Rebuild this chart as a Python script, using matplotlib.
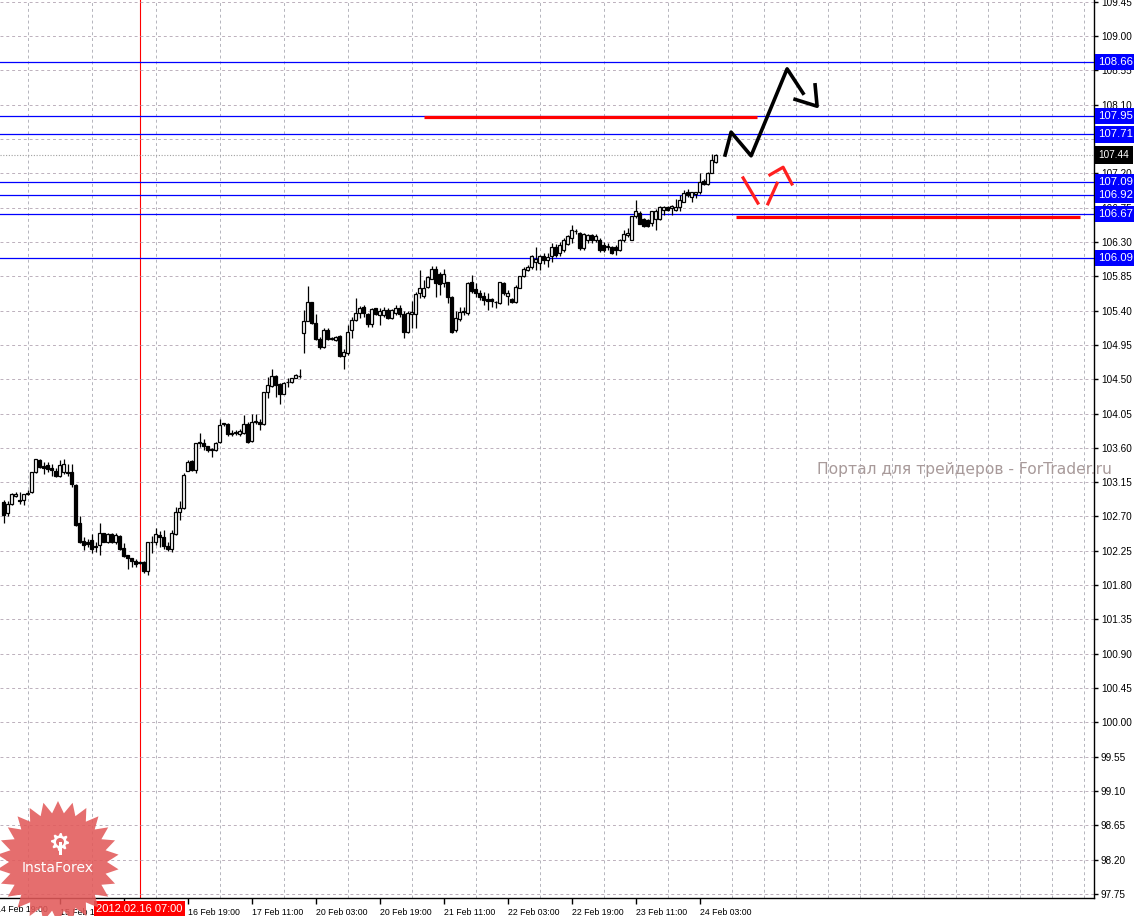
import numpy as np
import matplotlib
matplotlib.use("Agg")
import matplotlib.pyplot as plt
from matplotlib.patches import Polygon
import matplotlib.transforms as mtransforms

# ---------------- data ----------------
opens = [102.89,102.74,102.87,102.97,102.92,102.92,102.99,103.02,103.28,103.44,
         103.36,103.37,103.34,103.29,103.23,103.28,103.28,103.28,103.11,102.61,
         102.38,102.36,102.39,102.31,102.32,102.48,102.36,102.47,102.36,102.45,
         102.29,102.19,102.15,102.12,102.10,102.10,101.99,102.36,102.37,102.46,
         102.43,102.31,102.27,102.47,102.76,102.81,103.30,103.43,103.31,103.66,
         103.67,103.62,103.57,103.57,103.68,103.91,103.91,103.80,103.81,103.78,
         103.80,103.91,103.69,103.94,103.94,103.91,104.33,104.41,104.54,104.44,
         104.31,104.46,104.46,104.52,104.54,105.10,105.27,105.51,105.24,105.03,
         104.92,105.15,105.03,105.01,105.07,104.80,104.84,105.15,105.28,105.37,
         105.45,105.36,105.23,105.43,105.34,105.34,105.41,105.30,105.37,105.44,
         105.36,105.12,105.36,105.36,105.63,105.59,105.71,105.82,105.95,105.88,
         105.76,105.77,105.58,105.15,105.29,105.38,105.37,105.77,105.68,105.63,
         105.59,105.55,105.55,105.51,105.50,105.76,105.59,105.55,105.51,105.70,
         105.85,105.93,105.97,106.04,106.03,106.11,106.06,106.11,106.24,106.15,
         106.19,106.27,106.35,106.44,106.42,106.22,106.33,106.39,106.33,106.33,
         106.26,106.24,106.24,106.24,106.19,106.32,106.39,106.33,106.64,106.68,
         106.60,106.59,106.55,106.60,106.60,106.72,106.76,106.75,106.72,106.76,
         106.83,106.95,106.89,106.93,106.96,107.10,107.06,107.21,107.35]
highs = [102.92,102.90,103.01,103.02,103.02,103.00,103.05,103.28,103.46,103.46,
         103.42,103.42,103.39,103.33,103.44,103.46,103.39,103.39,103.12,102.70,
         102.43,102.40,102.47,102.37,102.61,102.49,102.48,102.48,102.48,102.46,
         102.35,102.19,102.16,102.14,102.11,102.12,102.37,102.44,102.55,102.51,
         102.52,102.37,102.52,102.83,102.90,103.27,103.44,103.44,103.67,103.79,
         103.72,103.63,103.60,103.68,103.98,103.93,103.92,103.84,103.83,103.85,
         104.03,103.94,104.05,104.04,103.98,104.33,104.53,104.64,104.55,104.45,
         104.46,104.52,104.52,104.57,104.63,105.41,105.72,105.51,105.36,105.05,
         105.17,105.17,105.06,105.07,105.08,104.89,105.21,105.32,105.56,105.46,
         105.47,105.37,105.44,105.44,105.43,105.45,105.43,105.42,105.47,105.47,
         105.39,105.39,105.52,105.64,105.93,105.80,105.85,105.98,105.98,105.90,
         105.95,105.78,105.59,105.39,105.45,105.45,105.77,105.87,105.76,105.67,
         105.65,105.63,105.56,105.52,105.78,105.77,105.67,105.56,105.74,105.86,
         105.97,106.00,106.13,106.23,106.13,106.15,106.15,106.29,106.27,106.30,
         106.35,106.39,106.52,106.47,106.43,106.42,106.41,106.40,106.40,106.35,
         106.30,106.29,106.25,106.26,106.34,106.46,106.48,106.64,106.85,106.70,
         106.61,106.60,106.71,106.73,106.77,106.77,106.77,106.79,106.86,106.92,
         106.98,106.99,106.96,106.96,107.20,107.12,107.22,107.46,107.45]
lows = [102.61,102.70,102.85,102.96,102.87,102.85,102.98,103.01,103.27,103.33,
        103.26,103.28,103.23,103.22,103.22,103.26,103.23,103.09,102.57,102.35,
        102.26,102.30,102.22,102.23,102.20,102.36,102.35,102.35,102.34,102.26,
        102.17,102.01,102.04,102.04,102.08,101.96,101.93,102.22,102.33,102.30,
        102.28,102.25,102.24,102.46,102.65,102.80,103.29,103.30,103.27,103.61,
        103.57,103.55,103.48,103.56,103.66,103.89,103.75,103.75,103.77,103.75,
        103.78,103.67,103.68,103.91,103.84,103.90,104.25,104.40,104.27,104.18,
        104.31,104.40,104.45,104.51,104.51,104.84,105.27,105.23,105.01,104.90,
        104.91,105.01,105.01,105.00,104.79,104.64,104.82,105.04,105.27,105.30,
        105.32,105.19,105.18,105.34,105.21,105.32,105.29,105.29,105.34,105.32,
        105.04,105.10,105.17,105.17,105.56,105.56,105.69,105.81,105.58,105.61,
        105.71,105.50,105.11,105.12,105.26,105.34,105.34,105.63,105.58,105.54,
        105.47,105.41,105.45,105.43,105.49,105.61,105.47,105.50,105.50,105.69,
        105.84,105.92,105.95,105.93,105.93,106.01,105.97,106.04,106.10,106.11,
        106.17,106.26,106.28,106.41,106.20,106.20,106.28,106.28,106.30,106.17,
        106.17,106.19,106.14,106.13,106.18,106.30,106.37,106.32,106.61,106.54,
        106.49,106.49,106.51,106.46,106.59,106.65,106.70,106.65,106.71,106.70,
        106.82,106.89,106.82,106.87,106.93,107.05,107.05,107.20,107.34]
closes = [102.72,102.86,102.99,103.00,102.90,102.99,103.01,103.28,103.45,103.35,
          103.34,103.32,103.31,103.23,103.37,103.39,103.27,103.12,102.59,102.36,
          102.32,102.34,102.28,102.30,102.49,102.37,102.47,102.37,102.46,102.28,
          102.18,102.16,102.11,102.08,102.09,101.98,102.36,102.37,102.47,102.43,
          102.31,102.27,102.48,102.76,102.81,103.24,103.42,103.31,103.66,103.68,
          103.62,103.57,103.58,103.66,103.90,103.92,103.78,103.78,103.79,103.82,
          103.91,103.68,103.94,103.94,103.91,104.33,104.42,104.54,104.43,104.30,
          104.45,104.46,104.51,104.55,104.54,105.27,105.51,105.24,105.03,104.92,
          105.14,105.03,105.04,105.05,104.80,104.86,105.12,105.28,105.37,105.43,
          105.37,105.23,105.42,105.36,105.39,105.41,105.30,105.41,105.44,105.36,
          105.12,105.37,105.38,105.62,105.69,105.69,105.84,105.95,105.76,105.75,
          105.88,105.58,105.12,105.30,105.38,105.39,105.76,105.66,105.63,105.58,
          105.54,105.52,105.52,105.51,105.77,105.63,105.63,105.51,105.71,105.85,
          105.94,105.97,106.11,106.08,106.11,106.06,106.10,106.24,106.13,106.26,
          106.33,106.38,106.46,106.44,106.22,106.40,106.39,106.33,106.38,106.20,
          106.20,106.25,106.15,106.19,106.33,106.41,106.42,106.64,106.70,106.54,
          106.51,106.51,106.70,106.71,106.76,106.76,106.72,106.77,106.76,106.85,
          106.94,106.92,106.95,106.95,107.09,107.06,107.21,107.37,107.44]

level_values = [108.66, 107.95, 107.71, 107.09, 106.92, 106.67, 106.09]
current_price = 107.44
y_ticks = [97.75, 98.20, 98.65, 99.10, 99.55, 100.00, 100.45, 100.90, 101.35,
           101.80, 102.25, 102.70, 103.15, 103.60, 104.05, 104.50, 104.95,
           105.40, 105.85, 106.30, 106.75, 107.20, 107.65, 108.10, 108.55,
           109.00, 109.45]
x_label_bars = [-2, 14, 30, 46, 62, 78, 94, 110, 126, 142, 158, 174]
x_labels = ["14 Feb 19:00", "15 Feb 11:00", "16 Feb 03:00", "16 Feb 19:00",
            "17 Feb 11:00", "20 Feb 03:00", "20 Feb 19:00", "21 Feb 11:00",
            "22 Feb 03:00", "22 Feb 19:00", "23 Feb 11:00", "24 Feb 03:00"]
crosshair_bar = 34
crosshair_label = "2012.02.16 07:00"

# hand-drawn forecast annotations (bar index, price)
red_line1_x = [105.1, 188.4]; red_line1_y = [107.94, 107.94]
red_line2_x = [183.1, 269.1]; red_line2_y = [106.63, 106.63]
black_path1_x = [180.4, 181.9, 186.9, 195.9, 199.9]
black_path1_y = [107.44, 107.74, 107.43, 108.57, 108.25]
black_path2_x = [197.9, 203.4, 202.9]
black_path2_y = [108.17, 108.08, 108.36]
red_path1_x = [184.9, 188.6]; red_path1_y = [107.14, 106.81]
red_path2_x = [191.1, 193.4]; red_path2_y = [106.80, 107.07]
red_path3_x = [191.6, 194.9, 197.1]; red_path3_y = [107.18, 107.28, 107.06]

watermark = "Портал для трейдеров - ForTrader.ru"
logo_text = "InstaForex"

AXFONT = ["Liberation Sans", "DejaVu Sans"]

# ---------------- figure ----------------
W, H = 1134, 916
fig = plt.figure(figsize=(W / 100, H / 100), dpi=100)
fig.patch.set_facecolor("white")
ax = fig.add_axes([0, 18 / H, 1094 / W, 898 / H])
ax.set_facecolor("white")
ax.set_xlim(-0.875, 272.625)
ax.set_ylim(97.697, 109.473)

# grid
grid_bars = np.arange(6, 273, 8)
ax.set_xticks(grid_bars, minor=True)
ax.set_yticks(y_ticks)
ax.set_yticklabels([f"{v:.2f}" for v in y_ticks], fontfamily=AXFONT, fontsize=7.2)
ax.grid(which="minor", axis="x", color="#b4b4bc", lw=0.7, ls=(0, (3, 3)))
ax.grid(which="major", axis="y", color="#bcb0bc", lw=0.7, ls=(0, (3, 3)))
ax.grid(which="major", axis="x", visible=False)

# ticks
in_range = [(b, lab) for b, lab in zip(x_label_bars, x_labels) if b >= -0.875]
ax.set_xticks([b for b, _ in in_range])
ax.set_xticklabels([lab for _, lab in in_range], fontsize=6.3, fontfamily=AXFONT)
for t in ax.get_xticklabels():
    t.set_ha("left")
ax.tick_params(axis="x", which="major", length=4, width=1, pad=3, direction="out")
ax.tick_params(axis="x", which="minor", length=0)
ax.yaxis.tick_right()
ax.tick_params(axis="y", length=3, width=1, pad=2)
for b, lab in zip(x_label_bars, x_labels):
    if b < -0.875:
        ax.annotate(lab, xy=(b, 0), xycoords=ax.get_xaxis_transform(),
                    xytext=(0, -5.2), textcoords="offset points", ha="left",
                    va="top", fontsize=6.3, fontfamily=AXFONT, annotation_clip=False)

for s in ["top", "left"]:
    ax.spines[s].set_visible(False)
for s in ["right", "bottom"]:
    ax.spines[s].set_color("black")
    ax.spines[s].set_linewidth(1.0)

# crosshair
ax.axvline(crosshair_bar, color="#ff0000", lw=0.8, zorder=1)

# levels
for v in level_values:
    ax.axhline(v, color="#0000ff", lw=0.9, zorder=2)
ax.axhline(current_price, color="#a0a0a0", lw=0.8, ls=(0, (1, 1.5)), zorder=2)

# candles
o = np.array(opens); h = np.array(highs); l = np.array(lows); c = np.array(closes)
idx = np.arange(len(o))
ax.vlines(idx, l, h, color="black", lw=0.9, zorder=3)
bull = c >= o
bottoms = np.minimum(o, c)
heights = np.maximum(np.abs(c - o), 0.006)
ax.bar(idx[bull], heights[bull], bottom=bottoms[bull], width=0.55,
       color="white", edgecolor="black", lw=0.9, zorder=4)
ax.bar(idx[~bull], heights[~bull], bottom=bottoms[~bull], width=0.55,
       color="black", edgecolor="black", lw=0.9, zorder=4)

# annotations
ax.plot(red_line1_x, red_line1_y, color="#ff0000", lw=2.3, zorder=5, solid_capstyle="butt")
ax.plot(red_line2_x, red_line2_y, color="#ff0000", lw=2.3, zorder=5, solid_capstyle="butt")
ax.plot(black_path1_x, black_path1_y, color="black", lw=2.6, zorder=6)
ax.plot(black_path2_x, black_path2_y, color="black", lw=2.6, zorder=6)
for px, py in [(red_path1_x, red_path1_y), (red_path2_x, red_path2_y), (red_path3_x, red_path3_y)]:
    ax.plot(px, py, color="#ff2020", lw=2.3, zorder=6)

# right-side price boxes
btrans = mtransforms.blended_transform_factory(ax.transAxes, ax.transData)
xb = 1 + 4 / 1094
for v in level_values:
    ax.text(xb, v, f"{v:.2f}", transform=btrans, ha="left", va="center", fontsize=8.2,
            fontfamily=AXFONT, color="white", clip_on=False, zorder=10,
            bbox=dict(boxstyle="square,pad=0.28", fc="#0000ff", ec="none"))
ax.text(xb, current_price, f"{current_price:.2f}", transform=btrans, ha="left",
        va="center", fontsize=7.2, fontfamily=AXFONT, color="white", clip_on=False, zorder=10,
        bbox=dict(boxstyle="square,pad=0.4", fc="black", ec="none"))

# crosshair date box
ax.text(crosshair_bar, -0.0117, crosshair_label, transform=ax.get_xaxis_transform(),
        ha="center", va="center", fontsize=8, fontfamily=AXFONT, color="white",
        clip_on=False, zorder=10,
        bbox=dict(boxstyle="square,pad=0.25", fc="#ff0000", ec="none"))

# watermark
fig.text(817 / W, (H - 474) / H, watermark, fontsize=11.2, color="#a89a9a",
         ha="left", va="baseline", zorder=20)

# InstaForex logo
cx, cy = 58, 862
n = 26
ang = np.linspace(0, 2 * np.pi, 2 * n, endpoint=False) + np.pi / 2
rad = np.where(np.arange(2 * n) % 2 == 0, 61, 49)
pts = np.column_stack([(cx + rad * np.cos(ang)) / W, (H - (cy + rad * np.sin(ang))) / H])
fig.patches.append(Polygon(pts, closed=True, transform=fig.transFigure,
                           fc="#e25a5a", ec="none", alpha=0.88, zorder=15))
gx, gy = 60, 842
ng = 8
ang2 = np.linspace(0, 2 * np.pi, 4 * ng, endpoint=False)
rad2 = np.array([9, 9, 6.5, 6.5] * ng)
gpts = np.column_stack([(gx + rad2 * np.cos(ang2)) / W, (H - (gy + rad2 * np.sin(ang2))) / H])
fig.patches.append(Polygon(gpts, closed=True, transform=fig.transFigure,
                           fc="white", ec="none", zorder=16))
fig.patches.append(Polygon(np.column_stack([(gx + 4 * np.cos(ang2)) / W,
                                            (H - (gy + 4 * np.sin(ang2))) / H]),
                           closed=True, transform=fig.transFigure, fc="#e26a6a",
                           ec="none", zorder=17))
fig.patches.append(Polygon([[(gx - 1.5) / W, (H - gy) / H], [(gx + 1.5) / W, (H - gy) / H],
                            [(gx + 1.5) / W, (H - 855) / H], [(gx - 1.5) / W, (H - 855) / H]],
                           closed=True, transform=fig.transFigure, fc="white", ec="none", zorder=18))
fig.text(cx / W, (H - 868) / H, logo_text, fontsize=10, color="white", ha="center",
         va="center", zorder=19)

fig.savefig("out.png", dpi=100, facecolor="white")
